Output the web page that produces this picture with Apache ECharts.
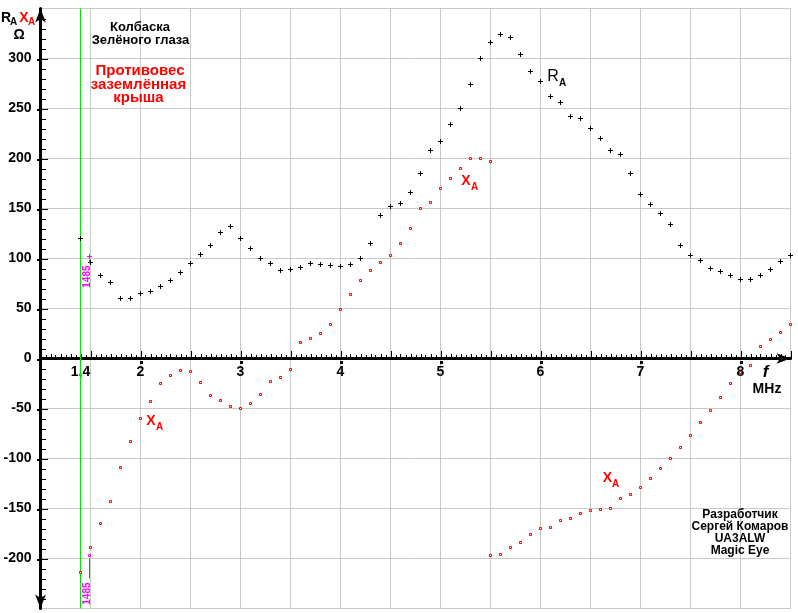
<!DOCTYPE html>
<html><head><meta charset="utf-8">
<script src="https://cdn.jsdelivr.net/npm/echarts@6/dist/echarts.min.js"></script>
<style>html,body{margin:0;padding:0;background:#fff}#c{width:798px;height:613px}</style>
</head><body><div id="c"></div>
<script>
// ---- data ----
const freq = [1.4,1.5,1.6,1.7,1.8,1.9,2.0,2.1,2.2,2.3,2.4,2.5,2.6,2.7,2.8,2.9,
  3.0,3.1,3.2,3.3,3.4,3.5,3.6,3.7,3.8,3.9,4.0,4.1,4.2,4.3,4.4,4.5,4.6,4.7,4.8,4.9,
  5.0,5.1,5.2,5.3,5.4,5.5,5.6,5.7,5.8,5.9,6.0,6.1,6.2,6.3,6.4,6.5,6.6,6.7,6.8,6.9,
  7.0,7.1,7.2,7.3,7.4,7.5,7.6,7.7,7.8,7.9,8.0,8.1,8.2,8.3,8.4,8.5];
const ra = [120,96,83,76,60,60,65,67,72,78,86,95,104,113,126,132,
  120,110,100,95,88,89,91,95,94,93,92,94,100,115,143,152,155,166,185,208,
  217,234,250,274,300,316,324,321,304,287,277,262,256,242,240,230,220,208,204,185,
  164,154,145,134,113,103,98,90,87,83,79,79,83,89,97,103];
const xa = [-214,-189,-165,-143,-109,-83,-60,-43,-25,-17,-12,-13,-24,-37,-42,-48,
  -50,-45,-36,-23,-19,-11,16,20,25,34,49,64,78,88,96,103,115,130,150,156,
  170,180,190,200,200,197,-196,-189,-184,-176,-170,-169,-162,-160,-155,-152,-151,-150,-140,-136,
  -129,-120,-110,-100,-89,-77,-64,-52,-39,-25,-14,-7,12,19,26,34];
const xaJump = [5.5, -197];          // second XA reading at 5.5 MHz (negative branch)
const startFreq = 1.4;               // green start line
const markerFreq = 1.485;
const markerRA = 102;
const markerXA = -197;
const markerLabel = '1485';
const xTickLabels = [1.4, 2, 3, 4, 5, 6, 7, 8];
const yTickLabels = [-200, -150, -100, -50, 0, 50, 100, 150, 200, 250, 300];

// ---- chart ----
const FF = '"Liberation Sans", Arial, sans-serif';
const chart = echarts.init(document.getElementById('c'), null, {renderer: 'canvas'});

const raData = freq.map((f, i) => [f, ra[i]]);
const xaData = freq.map((f, i) => [f, xa[i]]);
xaData.push(xaJump);

const plusPath = 'path://M2,0L3,0L3,5L2,5ZM0,2L5,2L5,3L0,3Z';

function txt(x, y, text, font, fill, align) {
  return {type: 'text', x: x, y: y, silent: true, z: 50,
    style: {text: text, font: font, fill: fill, align: align || 'center', verticalAlign: 'middle'}};
}
const B = (s) => 'bold ' + s + 'px ' + FF;

const graphics = [
  txt(6, 18, 'R', B(14), '#000'), txt(13.5, 22, 'A', B(10), '#000'),
  txt(24, 18, 'X', B(14), '#ff0000'), txt(31.5, 22, 'A', B(10), '#ff0000'),
  txt(19, 35, 'Ω', B(14), '#000'),
  txt(140, 27, 'Колбаска', B(13), '#000'),
  txt(140.5, 40, 'Зелёного глаза', B(13), '#000'),
  txt(140, 71, 'Противовес', B(15), '#ff0000'),
  txt(138.5, 85, 'заземлённая', B(15), '#ff0000'),
  txt(138.5, 98, 'крыша', B(15), '#ff0000'),
  txt(553, 77, 'R', '16px ' + FF, '#000'), txt(562.5, 83, 'A', B(10), '#000'),
  txt(466, 181, 'X', B(14), '#ff0000'), txt(474.5, 187, 'A', B(10), '#ff0000'),
  txt(151, 421, 'X', B(14), '#ff0000'), txt(159.5, 427, 'A', B(10), '#ff0000'),
  txt(607.5, 478, 'X', B(14), '#ff0000'), txt(615.5, 484, 'A', B(10), '#ff0000'),
  txt(765.5, 372, 'f', 'italic bold 17px ' + FF, '#000'),
  txt(767, 389, 'MHz', B(14), '#000'),
  txt(740, 515, 'Разработчик', B(12), '#000'),
  txt(740, 527, 'Сергей Комаров', B(12), '#000'),
  txt(740, 539, 'UA3ALW', B(12), '#000'),
  txt(740, 551, 'Magic Eye', B(12), '#000')
];

const markerStyle = [
  {lineLen: 7, textGap: 9},
  {lineLen: 23, textGap: 27}
];

const X_MIN = 1, X_MAX = 8.5, X_MINOR = 0.05, X_MAJOR = 0.5;
const Y_MIN = -250, Y_MAX = 350, Y_MINOR = 10, Y_MAJOR = 50;
const GRID_TOP = 8.5, GRID_H = 600;
// label-only x axis placed at value 0 of the y axis: offset from grid bottom
const xLabelOffset = -GRID_H * (0 - Y_MIN) / (Y_MAX - Y_MIN);
const labelFont = {color: '#000', fontSize: 14, fontWeight: 'bold', fontFamily: FF};

// axis tick marks, positioned through the chart's own scales
function renderTicks(params, api) {
  const o = api.coord([X_MIN, 0]);
  const x0 = Math.round(o[0]);
  const y0 = Math.round(o[1]);
  const ch = [];
  const nx = Math.round((X_MAX - X_MIN) / X_MINOR);
  for (let i = 0; i <= nx; i++) {
    const v = X_MIN + i * X_MINOR;
    const px = Math.round(api.coord([v, 0])[0]);
    const major = i % Math.round(X_MAJOR / X_MINOR) === 0;
    const len = major ? 8 : (i % 2 === 0 ? 5 : 4);
    ch.push({type: 'rect', shape: {x: px, y: y0 - len, width: 1, height: len}, style: {fill: '#000'}});
    if (i > 0 && i % Math.round(1 / X_MINOR) === 0) {
      ch.push({type: 'rect', shape: {x: px - 1, y: y0 + 2, width: 3, height: 3}, style: {fill: '#000'}});
    }
  }
  const ny = Math.round((Y_MAX - Y_MIN) / Y_MINOR);
  for (let j = 1; j < ny; j++) {
    const v = Y_MIN + j * Y_MINOR;
    const py = Math.round(api.coord([X_MIN, v])[1]);
    const major = j % Math.round(Y_MAJOR / Y_MINOR) === 0;
    ch.push({type: 'rect', shape: {x: x0, y: py, width: major ? 7 : 5, height: 1}, style: {fill: '#000'}});
    if (major) ch.push({type: 'rect', shape: {x: x0 - 4, y: py, width: 4, height: 2}, style: {fill: '#000'}});
  }
  return {type: 'group', children: ch};
}

const option = {
  animation: false,
  backgroundColor: '#fff',
  grid: {left: 40.5, right: 7.5, top: GRID_TOP, height: GRID_H, containLabel: false},
  xAxis: [{
    type: 'value', min: X_MIN, max: X_MAX, interval: X_MAJOR,
    axisLine: {show: true, onZero: true, lineStyle: {color: '#000', width: 3},
      symbol: ['none', 'arrow'], symbolSize: [8, 14]},
    axisTick: {show: false}, minorTick: {show: false},
    axisLabel: {show: false},
    splitLine: {show: true, lineStyle: {color: '#c4ccc4', width: 1}},
    minorSplitLine: {show: false}
  }, {
    type: 'value', min: X_MIN, max: X_MAX, position: 'bottom', offset: xLabelOffset,
    axisLine: {show: false, onZero: false}, axisTick: {show: false}, splitLine: {show: false},
    axisLabel: Object.assign({customValues: xTickLabels, margin: 7,
      formatter: v => String(v).replace('.', ',')}, labelFont)
  }],
  yAxis: [{
    type: 'value', min: Y_MIN, max: Y_MAX, interval: Y_MAJOR,
    axisLine: {show: true, onZero: false, lineStyle: {color: '#000', width: 3},
      symbol: ['arrow', 'arrow'], symbolSize: [8, 14]},
    axisTick: {show: false}, minorTick: {show: false},
    axisLabel: {show: false},
    splitLine: {show: true, lineStyle: {color: '#c4ccc4', width: 1}}
  }, {
    type: 'value', min: Y_MIN, max: Y_MAX, position: 'left',
    axisLine: {show: false, onZero: false}, axisTick: {show: false}, splitLine: {show: false},
    axisLabel: Object.assign({customValues: yTickLabels, margin: 9}, labelFont)
  }],
  graphic: graphics,
  series: [
    {
      type: 'custom', name: 'ticks', z: 1, silent: true, clip: false,
      data: [[X_MIN, 0]], renderItem: renderTicks
    },
    {
      type: 'scatter', name: 'XA', data: xaData, z: 3,
      symbol: 'rect', symbolSize: 2,
      itemStyle: {color: '#fff', borderColor: '#ff0000', borderWidth: 1, opacity: 1},
      silent: true
    },
    {
      type: 'scatter', name: 'RA', data: raData, z: 4,
      symbol: plusPath, symbolSize: 5,
      itemStyle: {color: '#000', opacity: 1},
      silent: true,
      markLine: {
        silent: true, symbol: ['none', 'none'], z: 1,
        label: {show: false},
        lineStyle: {color: '#00e600', type: 'solid', width: 1},
        data: [{xAxis: startFreq}]
      }
    },
    {
      type: 'custom', name: 'marker', z: 5, silent: true,
      data: [[markerFreq, markerRA], [markerFreq, markerXA]],
      renderItem: function (params, api) {
        const p = api.coord([api.value(0), api.value(1)]);
        const st = markerStyle[params.dataIndex];
        const x = Math.round(p[0]) + 0.5;
        const children = [];
        if (params.dataIndex === 0) {
          children.push({type: 'rect', shape: {x: x - 2.5, y: p[1] - 0.5, width: 5, height: 1}, style: {fill: '#ff00ff'}});
          children.push({type: 'rect', shape: {x: x - 0.5, y: p[1] - 2.5, width: 1, height: 5}, style: {fill: '#ff00ff'}});
        } else {
          children.push({type: 'rect', shape: {x: x - 1, y: p[1] - 1, width: 2, height: 2},
            style: {fill: '#fff', stroke: '#ff00ff', lineWidth: 1}});
        }
        children.push({type: 'line', shape: {x1: x, y1: p[1] + 3, x2: x, y2: p[1] + st.lineLen},
          style: {stroke: '#ff00ff', lineWidth: 1}});
        children.push({type: 'text', x: x - 2, y: p[1] + st.textGap, rotation: Math.PI / 2,
          style: {text: markerLabel, fill: '#ff00ff', font: 'bold 10px ' + FF,
            align: 'right', verticalAlign: 'middle'}});
        return {type: 'group', children: children};
      }
    }
  ]
};
chart.setOption(option);
</script>
</body></html>
